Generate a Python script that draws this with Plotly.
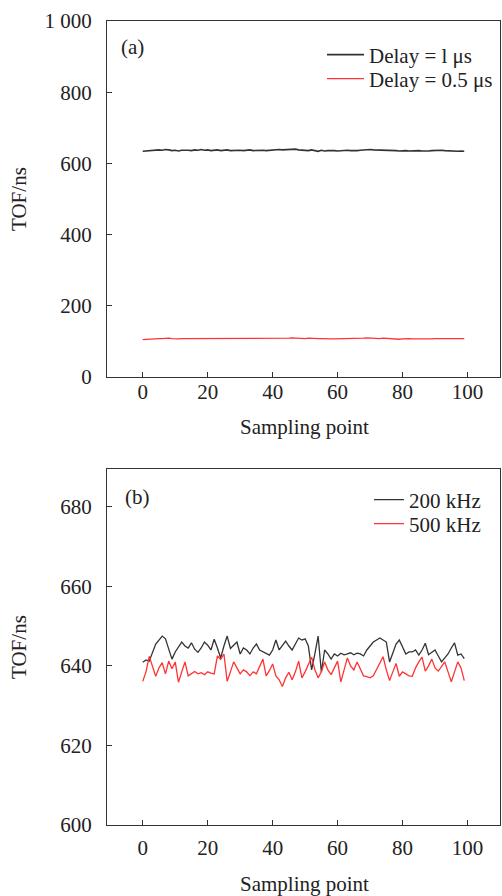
import plotly.graph_objects as go

# ---------------- data ----------------
sampling_a = list(range(0, 100))
delay_1us = [634,635,635,636,638,638,637,639,638,636,
             637,635,637,638,637,636,638,637,639,637,
             638,636,637,638,636,637,638,636,637,636,
             637,636,637,638,636,637,636,637,636,637,
             638,637,639,638,639,640,639,640,638,637,
             638,636,638,637,634,637,635,636,637,636,
             635,636,636,637,636,635,636,637,638,639,
             639,638,638,637,636,637,638,637,636,635,
             636,636,635,636,637,636,635,634,635,636,
             637,638,637,636,635,636,635,634,635,634]
delay_05us = [105,106,107,107,108,108,108,109,109,108,
              107,107,108,108,109,108,107,108,108,109,
              109,108,107,108,109,108,107,108,107,108,
              108,107,108,107,108,107,108,108,107,108,
              108,109,108,109,109,109,110,109,108,108,
              108,109,108,107,108,108,107,107,107,107,
              107,107,107,107,107,107,108,109,109,110,
              109,108,107,108,109,108,107,108,107,106,
              107,108,108,107,107,107,106,105,106,107,
              108,108,107,108,107,108,108,107,108,108]

sampling_b = list(range(0, 100))
freq_200k = [640.9,641.5,641.2,643.5,645.5,646.5,647.5,646.8,644.0,641.7,
             643.5,644.8,646.0,645.0,644.5,645.8,644.2,643.4,644.5,646.0,
             645.2,644.0,646.7,644.5,642.0,645.0,647.5,644.4,645.2,646.0,
             643.0,644.5,644.0,643.0,644.5,645.5,644.0,643.5,643.0,642.7,
             644.0,646.5,644.0,645.0,646.2,645.0,644.0,645.5,647.0,646.5,
             646.8,645.0,639.0,643.0,647.5,638.4,644.0,643.0,641.7,643.0,
             642.5,643.2,642.8,643.0,643.3,642.8,643.2,643.0,642.5,644.0,
             645.0,646.0,646.5,647.0,646.5,646.0,641.0,643.5,645.5,646.5,
             644.5,643.0,643.5,643.5,644.0,642.7,644.0,645.7,642.8,643.5,
             644.0,642.5,641.0,642.0,643.0,644.5,645.8,642.7,643.0,641.8]
freq_500k = [636.1,638.5,642.4,640.0,637.4,639.5,640.8,638.0,641.2,639.3,
             641.0,635.9,638.5,641.0,637.5,638.0,638.6,638.0,638.3,637.8,
             638.5,638.2,638.0,642.5,641.6,643.0,636.1,638.5,641.0,639.5,
             638.0,639.0,638.5,637.5,638.5,638.0,640.0,641.7,637.5,638.8,
             640.5,637.5,636.5,634.8,637.0,638.4,636.5,638.5,641.2,637.0,
             638.5,640.4,642.2,639.0,637.0,638.5,641.0,639.0,637.8,639.5,
             641.2,636.0,639.0,642.0,640.0,639.0,641.0,639.0,637.5,637.3,
             637.0,637.5,639.0,640.5,642.3,639.0,636.3,638.5,640.6,637.4,
             638.5,638.0,637.5,637.4,639.5,641.0,642.2,638.7,640.0,641.7,
             639.5,638.7,639.8,641.0,638.5,636.0,638.5,641.0,639.5,636.3]

x_ticks = [0, 20, 40, 60, 80, 100]
y_ticks_a = [0, 200, 400, 600, 800, 1000]
y_ticktext_a = ["0", "200", "400", "600", "800", "1 000"]
y_ticks_b = [600, 620, 640, 660, 680]

# ---------------- figure ----------------
W, H = 502, 896
BLACK = "#333333"
RED = "#ff3333"
TXT = "#222222"
FONT = "Liberation Serif"
FS = 21

fig = go.Figure()

fig.add_trace(go.Scatter(x=sampling_a, y=delay_1us, mode="lines", name="Delay = l μs",
                         line=dict(color=BLACK, width=1.6), xaxis="x", yaxis="y", legend="legend"))
fig.add_trace(go.Scatter(x=sampling_a, y=delay_05us, mode="lines", name="Delay = 0.5 μs",
                         line=dict(color=RED, width=1.3), xaxis="x", yaxis="y", legend="legend2"))
fig.add_trace(go.Scatter(x=sampling_b, y=freq_200k, mode="lines", name="200 kHz",
                         line=dict(color=BLACK, width=1.3), xaxis="x2", yaxis="y2", legend="legend3"))
fig.add_trace(go.Scatter(x=sampling_b, y=freq_500k, mode="lines", name="500 kHz",
                         line=dict(color=RED, width=1.3), xaxis="x2", yaxis="y2", legend="legend4"))

def px_x(p):
    return p / W

def px_y(p):
    return 1 - p / H

axis_common = dict(showline=True, linecolor=BLACK, linewidth=1.2, mirror=True,
                   showgrid=False, zeroline=False, ticks="inside", ticklen=5,
                   tickcolor=BLACK, tickwidth=1.2, automargin=False,
                   tickfont=dict(family=FONT, size=FS, color=TXT))

xdom = [px_x(107), px_x(500)]

def leg(xp, yp, iw):
    return dict(x=px_x(xp), y=px_y(yp), xanchor="left", yanchor="middle",
                bgcolor="rgba(0,0,0,0)", font=dict(family=FONT, size=FS, color=TXT),
                itemwidth=iw)

fig.update_layout(
    template="none",
    width=W, height=H,
    margin=dict(l=0, r=0, t=0, b=0, autoexpand=False),
    paper_bgcolor="white", plot_bgcolor="white",
    font=dict(family=FONT, color=TXT),
    xaxis=dict(domain=xdom, range=[-11, 110], tickvals=x_ticks, anchor="y",
               ticklabelstandoff=-4, **axis_common),
    yaxis=dict(domain=[px_y(377), px_y(21)], range=[0, 1000], tickvals=y_ticks_a,
               ticktext=y_ticktext_a, anchor="x", ticklabelstandoff=10, **axis_common),
    xaxis2=dict(domain=xdom, range=[-11, 110], tickvals=x_ticks, anchor="y2",
                ticklabelstandoff=4, **axis_common),
    yaxis2=dict(domain=[px_y(825), px_y(469)], range=[600, 689.5], tickvals=y_ticks_b,
                anchor="x2", ticklabelstandoff=10, **axis_common),
    legend=leg(322, 55, 37),
    legend2=leg(322, 79, 37),
    legend3=leg(369, 500, 30),
    legend4=leg(369, 524, 30),
    showlegend=True,
)

ann_font = dict(family=FONT, size=FS, color=TXT)
annotations = [
    dict(text="(a)", x=px_x(119), y=px_y(47), xanchor="left", yanchor="middle"),
    dict(text="(b)", x=px_x(123), y=px_y(497), xanchor="left", yanchor="middle"),
    dict(text="Sampling point", x=px_x(304), y=px_y(427), xanchor="center", yanchor="middle"),
    dict(text="Sampling point", x=px_x(304), y=px_y(884), xanchor="center", yanchor="middle"),
    dict(text="TOF/ns", x=px_x(19), y=px_y(199), xanchor="center", yanchor="middle", textangle=-90),
    dict(text="TOF/ns", x=px_x(19), y=px_y(647), xanchor="center", yanchor="middle", textangle=-90),
]
for a in annotations:
    a.update(xref="paper", yref="paper", showarrow=False, font=ann_font)
fig.update_layout(annotations=annotations)

fig.write_html("out.html",
               config={"displayModeBar": False},
               post_script="document.body.style.margin='0';document.body.style.overflow='hidden';")
